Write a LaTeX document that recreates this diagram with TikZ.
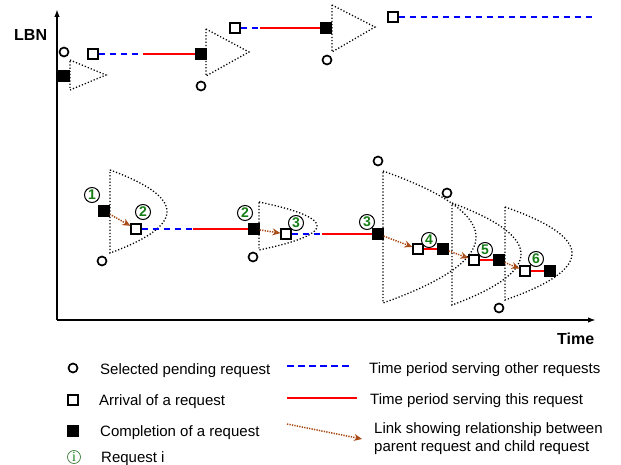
\documentclass[tikz,border=0pt]{standalone}
\usepackage{fontspec}
\setmainfont{Liberation Sans}
\newfontfamily\serifi{Liberation Serif}
\usetikzlibrary{arrows.meta}
\definecolor{linkbrown}{RGB}{168,72,18}
\definecolor{idgreen}{RGB}{20,125,20}
% dotted parabolic zone: x of the flat side, x of the tip, middle y, half height
\newcommand{\zone}[4]{%
  \draw[zoneline] plot[domain=-1:1,samples=41,smooth] ({#2-(#2-#1)*(\x)*(\x)},{#3+#4*\x}) -- cycle;}
\tikzset{
  axis/.style={line width=1.7pt,-{Latex[length=8pt,width=5.5pt]}},
  axlbl/.style={font=\bfseries\fontsize{16}{18}\selectfont,inner sep=0pt},
  pending/.style={circle,draw,line width=1.7pt,fill=white,inner sep=0pt,minimum size=9pt},
  arrival/.style={rectangle,draw,line width=1.7pt,fill=white,inner sep=0pt,minimum size=9.5pt},
  done/.style={rectangle,draw,fill=black,line width=0.8pt,inner sep=0pt,minimum size=10.5pt},
  other/.style={blue,line width=1.6pt,dash pattern=on 6.5pt off 4.5pt},
  serve/.style={red,line width=1.6pt},
  link/.style={linkbrown,line width=1.5pt,dash pattern=on 1.3pt off 1.2pt,
    -{Stealth[open,length=8pt,width=7pt,line width=1.2pt]}},
  zoneline/.style={line width=1.3pt,dash pattern=on 1.2pt off 2pt},
  reqid/.style={circle,draw,line width=1pt,fill=white,inner sep=0pt,minimum size=15pt,
    text=idgreen,font=\bfseries\fontsize{14}{14}\selectfont},
  keyid/.style={circle,draw=idgreen!60!gray,line width=0.7pt,inner sep=0pt,minimum size=13pt,
    text=idgreen,font=\serifi\fontsize{14}{14}\selectfont},
  lbl/.style={anchor=base west,inner sep=0pt,font=\fontsize{15}{18}\selectfont}
}
\begin{document}
\begin{tikzpicture}[x=1pt,y=-1pt]
\useasboundingbox (0,0) rectangle (621,465);
% axes
\draw[axis] (57,320) -- (57,9);
\draw[axis] (57,320) -- (596,320);
\node[axlbl,anchor=base west] (lbn) at (14,41) {LBN};
\node[axlbl,anchor=base west] (time) at (557,344) {Time};

% zones, upper run
\draw[zoneline] (70,60) -- (106,75) -- (70,90) -- cycle;
\draw[zoneline] (206,29) -- (249,52) -- (206,76) -- cycle;
\draw[zoneline] (332,5) -- (375,27) -- (332,52) -- cycle;
% zones, lower run
\zone{110}{167}{211.5}{41.5}
\zone{259}{317}{226}{24}
\zone{383}{476}{237}{66}
\zone{452}{521}{254}{51}
\zone{505}{572}{253.5}{46.5}

% upper run
\node[pending] (p0) at (64,52) {};
\node[done] (d0) at (64,76) {};
\node[arrival] (a1) at (93,54) {};
\coordinate (s1) at (143,54);
\node[done] (d1) at (201,54) {};
\node[pending] (p1) at (201,86) {};
\node[arrival] (a2) at (235,28) {};
\coordinate (s2) at (260,28);
\node[done] (d2) at (326,28) {};
\node[pending] (p2) at (327,60) {};
\node[arrival] (a3) at (393,17) {};
\coordinate (s3) at (593,17);
\draw[other] (a1) -- (s1);
\draw[serve] (s1) -- (d1);
\draw[other] (a2) -- (s2);
\draw[serve] (s2) -- (d2);
\draw[other] (a3) -- (s3);

% lower run
\node[done] (f1) at (104,211) {};
\node[arrival] (r2) at (136,229) {};
\coordinate (t2) at (193,229);
\node[done] (f2) at (254,229) {};
\node[arrival] (r3) at (286,234) {};
\coordinate (t3) at (322,234);
\node[done] (f3) at (378,234) {};
\node[arrival] (r4) at (418,249) {};
\node[done] (f4) at (443,249) {};
\node[arrival] (r5) at (474,260) {};
\node[done] (f5) at (499,260) {};
\node[arrival] (r6) at (525,271) {};
\node[done] (f6) at (550,271) {};
\node[pending] (q1) at (102,261) {};
\node[pending] (q2) at (253,257) {};
\node[pending] (q3) at (378,161) {};
\node[pending] (q4) at (447,193) {};
\node[pending] (q5) at (499,308) {};
\draw[other] (r2) -- (t2);
\draw[serve] (t2) -- (f2);
\draw[other] (r3) -- (t3);
\draw[serve] (t3) -- (f3);
\draw[serve] (r4) -- (f4);
\draw[serve] (r5) -- (f5);
\draw[serve] (r6) -- (f6);
\draw[link] (f1) -- (r2);
\draw[link] (f2) -- (r3);
\draw[link] (f3) -- (r4);
\draw[link] (f4) -- (r5);
\draw[link] (f5) -- (r6);
\node[reqid] (i1) at (92,195) {1};
\node[reqid] (i2) at (143,212) {2};
\node[reqid] (i2b) at (245,213) {2};
\node[reqid] (i3) at (296,223) {3};
\node[reqid] (i3b) at (367,222) {3};
\node[reqid] (i4) at (429,240) {4};
\node[reqid] (i5) at (485,250) {5};
\node[reqid] (i6) at (536,259) {6};

% legend
\node[pending] (kp) at (73,368) {};
\node[arrival] (ka) at (73,400) {};
\node[done] (kd) at (73,431) {};
\node[keyid] (ki) at (74,457) {i};
\node[lbl] (tp) at (100,374) {Selected pending request};
\node[lbl] (ta) at (99,405) {Arrival of a request};
\node[lbl] (td) at (100,436) {Completion of a request};
\node[lbl] (ti) at (101,462) {Request i};
\coordinate (ko1) at (287,366);
\coordinate (ko2) at (352,366);
\coordinate (ks1) at (287,398);
\coordinate (ks2) at (357,398);
\coordinate (kl1) at (287,424);
\coordinate (kl2) at (362,439);
\draw[other] (ko1) -- (ko2);
\draw[serve] (ks1) -- (ks2);
\draw[link] (kl1) -- (kl2);
\node[lbl] (to) at (369,373) {Time period serving other requests};
\node[lbl] (ts) at (370,404) {Time period serving this request};
\node[lbl] (tl1) at (374,433) {Link showing relationship between};
\node[lbl] (tl2) at (374,451) {parent request and child request};
\end{tikzpicture}
\end{document}
